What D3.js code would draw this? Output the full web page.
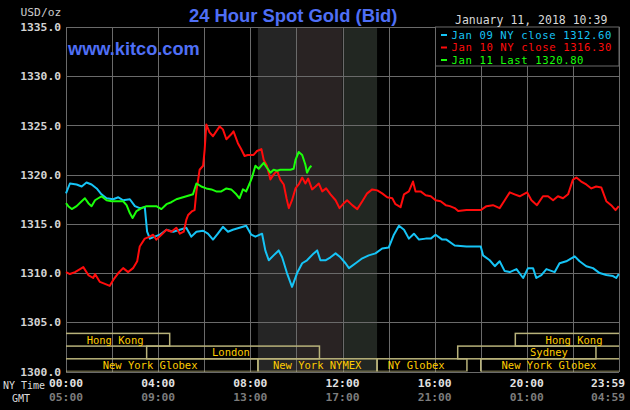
<!DOCTYPE html>
<html>
<head>
<meta charset="utf-8">
<script src="https://cdn.jsdelivr.net/npm/d3@7"></script>
<style>
  html, body { margin: 0; padding: 0; background: #000; }
  svg { display: block; }
  text { font-family: "DejaVu Sans Mono", "Liberation Mono", monospace; }
  text.brand { font-family: "Liberation Sans", Arial, sans-serif; font-weight: bold; }
</style>
</head>
<body>
<svg width="630" height="410"></svg>
<script>
// Jan 09, hour of NY day -> price
const jan09 = [
  [0, 1318.1], [0.17, 1319.1], [0.46, 1319.0], [0.68, 1318.8], [0.89, 1319.2], [1.11, 1319.0],
  [1.33, 1318.6], [1.54, 1318.0], [1.76, 1317.6], [2.05, 1317.5], [2.27, 1317.7], [2.48, 1317.4],
  [2.77, 1317.5], [2.99, 1316.8], [3.20, 1316.6], [3.42, 1316.7], [3.52, 1314.2], [3.64, 1313.5],
  [3.85, 1313.7], [4.07, 1313.9], [4.36, 1314.4], [4.65, 1314.2], [4.94, 1314.4], [5.22, 1314.6],
  [5.44, 1313.7], [5.66, 1314.2], [5.95, 1314.3], [6.16, 1314.0], [6.38, 1313.4], [6.59, 1314.0],
  [6.81, 1314.7], [7.03, 1314.2], [7.24, 1314.4], [7.53, 1314.6], [7.82, 1314.8], [8.04, 1313.9],
  [8.22, 1313.7], [8.51, 1314.0], [8.65, 1312.3], [8.80, 1311.3], [9.01, 1311.8], [9.23, 1312.3],
  [9.38, 1311.6], [9.59, 1310.0], [9.81, 1308.6], [10.03, 1310.0], [10.25, 1311.0], [10.46, 1311.3],
  [10.75, 1312.0], [10.90, 1312.3], [11.04, 1311.3], [11.26, 1311.3], [11.48, 1311.6], [11.70, 1312.0],
  [11.91, 1311.6], [12.13, 1311.0], [12.28, 1310.5], [12.57, 1311.0], [12.86, 1311.5], [13.14, 1311.8],
  [13.43, 1312.0], [13.72, 1312.5], [14.01, 1312.6], [14.23, 1313.9], [14.45, 1314.8], [14.67, 1314.4],
  [14.88, 1313.5], [15.10, 1314.0], [15.32, 1313.4], [15.61, 1313.5], [15.83, 1313.5], [16.04, 1313.9],
  [16.33, 1313.4], [16.51, 1313.4], [16.87, 1312.8], [17.38, 1312.7], [18.00, 1312.7], [18.10, 1311.8],
  [18.39, 1311.3], [18.61, 1310.7], [18.82, 1311.2], [19.04, 1310.2], [19.26, 1310.1], [19.55, 1310.4],
  [19.84, 1309.5], [20.05, 1310.5], [20.27, 1310.5], [20.41, 1309.5], [20.63, 1309.8], [20.85, 1310.4],
  [21.21, 1310.1], [21.42, 1311.0], [21.71, 1311.2], [22.08, 1311.7], [22.29, 1311.2], [22.58, 1310.7],
  [22.87, 1310.5], [23.16, 1310.0], [23.45, 1309.8], [23.74, 1309.7], [23.88, 1309.5], [23.99, 1309.9]
];

const jan10 = [
  [0, 1310.1], [0.17, 1309.9], [0.39, 1310.1], [0.61, 1310.4], [0.75, 1310.6], [0.97, 1309.8],
  [1.18, 1309.5], [1.26, 1309.9], [1.47, 1309.1], [1.69, 1308.9], [1.90, 1308.7], [2.05, 1309.3],
  [2.27, 1310.0], [2.48, 1310.5], [2.70, 1310.1], [2.91, 1310.5], [3.09, 1311.2], [3.20, 1312.7],
  [3.42, 1313.5], [3.64, 1313.7], [3.78, 1313.9], [3.92, 1313.4], [4.14, 1313.9], [4.36, 1314.4],
  [4.57, 1314.2], [4.79, 1314.6], [4.94, 1314.0], [5.11, 1314.2], [5.22, 1315.4], [5.30, 1315.9],
  [5.48, 1316.3], [5.58, 1316.4], [5.66, 1318.3], [5.80, 1320.5], [5.95, 1320.9], [6.02, 1322.6],
  [6.09, 1325.1], [6.23, 1324.3], [6.38, 1323.9], [6.52, 1324.4], [6.67, 1324.9], [6.81, 1324.6],
  [6.96, 1323.6], [7.17, 1324.1], [7.27, 1324.4], [7.46, 1323.2], [7.60, 1322.6], [7.75, 1321.9],
  [7.89, 1322.0], [8.14, 1322.0], [8.29, 1322.4], [8.48, 1322.6], [8.58, 1321.5], [8.72, 1320.9],
  [8.87, 1319.5], [9.01, 1320.0], [9.16, 1320.4], [9.30, 1319.5], [9.45, 1319.0], [9.57, 1317.6],
  [9.67, 1316.6], [9.81, 1317.4], [9.96, 1318.6], [10.10, 1319.0], [10.25, 1319.7], [10.39, 1319.1],
  [10.51, 1319.6], [10.68, 1318.5], [10.83, 1318.8], [10.97, 1319.1], [11.12, 1318.3], [11.29, 1318.6],
  [11.48, 1318.0], [11.70, 1317.4], [11.87, 1316.6], [12.06, 1317.1], [12.20, 1317.4], [12.42, 1316.9],
  [12.64, 1316.5], [12.86, 1317.3], [13.07, 1318.1], [13.29, 1318.5], [13.51, 1318.4], [13.72, 1318.1],
  [13.94, 1317.7], [14.16, 1317.6], [14.30, 1317.0], [14.52, 1316.7], [14.67, 1318.0], [14.88, 1318.3],
  [15.06, 1319.3], [15.17, 1318.3], [15.39, 1318.3], [15.61, 1317.9], [15.83, 1317.8], [16.04, 1317.4],
  [16.26, 1317.3], [16.48, 1316.9], [16.66, 1316.8], [16.87, 1316.6], [17.02, 1316.3], [17.38, 1316.4],
  [18.00, 1316.4], [18.25, 1316.8], [18.53, 1316.9], [18.82, 1316.6], [19.04, 1317.4], [19.26, 1318.2],
  [19.47, 1318.0], [19.69, 1317.8], [20.01, 1318.2], [20.20, 1317.4], [20.44, 1316.9], [20.70, 1317.8],
  [20.92, 1317.8], [21.14, 1317.4], [21.35, 1317.8], [21.57, 1317.6], [21.79, 1318.0], [22.00, 1319.5],
  [22.15, 1319.7], [22.36, 1319.3], [22.58, 1319.0], [22.80, 1318.6], [23.01, 1318.8], [23.23, 1318.7],
  [23.45, 1317.3], [23.66, 1316.9], [23.85, 1316.4], [23.99, 1316.8]
];

const jan11 = [
  [0, 1317.1], [0.10, 1316.8], [0.25, 1316.5], [0.46, 1316.8], [0.68, 1317.3], [0.82, 1317.6],
  [0.97, 1317.1], [1.11, 1316.8], [1.26, 1317.4], [1.40, 1317.6], [1.54, 1317.8], [1.76, 1317.4],
  [1.98, 1317.3], [2.27, 1317.3], [2.48, 1317.3], [2.63, 1316.9], [2.77, 1316.1], [2.89, 1315.6],
  [3.06, 1316.3], [3.28, 1316.6], [3.49, 1316.8], [3.71, 1316.8], [3.92, 1316.8], [4.14, 1316.5],
  [4.36, 1317.0], [4.57, 1317.2], [4.79, 1317.5], [5.08, 1317.7], [5.37, 1317.9], [5.51, 1318.0],
  [5.66, 1319.1], [5.87, 1318.8], [6.09, 1318.6], [6.31, 1318.5], [6.52, 1318.3], [6.74, 1318.3],
  [6.96, 1318.6], [7.17, 1318.5], [7.39, 1318.0], [7.53, 1317.6], [7.68, 1318.5], [7.82, 1318.3],
  [7.97, 1319.1], [8.07, 1319.7], [8.22, 1320.9], [8.36, 1320.6], [8.58, 1321.2], [8.72, 1320.7],
  [8.87, 1320.2], [9.01, 1320.5], [9.16, 1320.4], [9.30, 1320.5], [9.52, 1320.5], [9.74, 1320.5],
  [9.88, 1320.6], [9.96, 1321.5], [10.10, 1322.3], [10.25, 1322.0], [10.39, 1321.0], [10.46, 1320.2],
  [10.57, 1320.7], [10.65, 1320.9]
];

const series = [
  { name: 'Jan 09 NY close 1312.60', color: '#16c4f6', points: jan09 },
  { name: 'Jan 10 NY close 1316.30', color: '#ff0c0c', points: jan10 },
  { name: 'Jan 11 Last 1320.80', color: '#1aff0a', points: jan11 }
];

const priceTicks = [1300, 1305, 1310, 1315, 1320, 1325, 1330, 1335];
const hourTicks = [0, 4, 8, 12, 16, 20, 23.98];
const nyLabels = ['00:00', '04:00', '08:00', '12:00', '16:00', '20:00', '23:59'];
const gmtLabels = ['05:00', '09:00', '13:00', '17:00', '21:00', '01:00', '04:59'];

// NYMEX floor hours, split by tint
const shadeBands = [
  { from: 8.33, to: 10, color: '#252525' },
  { from: 10, to: 12, color: '#292323' },
  { from: 12, to: 13.5, color: '#222722' }
];

// trading sessions: row, start hour, end hour, label centre hour
const sessions = [
  { name: 'Hong Kong', row: 0, from: -2, to: 4.5, at: 2.13 },
  { name: 'London', row: 1, from: 3.5, to: 11, at: 7.16 },
  { name: 'New York Globex', row: 2, from: -2, to: 8.33, at: 3.65 },
  { name: 'New York NYMEX', row: 2, from: 8.33, to: 13.5, at: 10.9 },
  { name: 'NY Globex', row: 2, from: 13.5, to: 17.4, at: 15.2 },
  { name: 'Sydney', row: 1, from: 17, to: 23, at: 20.96 },
  { name: 'New York Globex', row: 2, from: 18, to: 26, at: 20.96 },
  { name: 'Hong Kong', row: 0, from: 19.5, to: 26, at: 22.05 }
];

const plotLeft = 66, plotRight = 619, plotTop = 27, plotBottom = 371.5;

const svg = d3.select('svg');

const x = d3.scaleLinear().domain([0, 24]).range([plotLeft, plotRight]);
const y = d3.scaleLinear().domain([1300, 1335]).range([plotBottom, plotTop]);

svg.append('rect')
    .attr('width', 630)
    .attr('height', 410)
    .attr('fill', '#000');

svg.append('defs').append('clipPath')
    .attr('id', 'plot')
    .append('rect')
    .attr('x', plotLeft)
    .attr('y', plotTop)
    .attr('width', plotRight - plotLeft)
    .attr('height', plotBottom - plotTop);

svg.selectAll('.shade')
    .data(shadeBands)
    .enter().append('rect')
    .attr('class', 'shade')
    .attr('x', d => x(d.from))
    .attr('y', plotTop)
    .attr('width', d => x(d.to) - x(d.from))
    .attr('height', plotBottom - plotTop)
    .attr('fill', d => d.color);

// grid
const gridX = svg.append('g')
    .attr('transform', `translate(0, ${plotBottom})`)
    .call(d3.axisBottom(x).tickValues(d3.range(0, 25, 2)).tickSize(-(plotBottom - plotTop)).tickFormat(''));
const gridY = svg.append('g')
    .attr('transform', `translate(${plotLeft}, 0)`)
    .call(d3.axisLeft(y).tickValues(priceTicks).tickSize(-(plotRight - plotLeft)).tickFormat(''));
[gridX, gridY].forEach(g => {
    g.select('.domain').remove();
    g.selectAll('line').attr('stroke', '#6a6a6a').attr('stroke-width', 1).attr('shape-rendering', 'crispEdges');
});

// session boxes
const rowH = 12.7;
const rowTop = r => plotBottom - (3 - r) * rowH;
const sess = svg.append('g').attr('clip-path', 'url(#plot)');

sess.selectAll('rect')
    .data(sessions)
    .enter().append('rect')
    .attr('x', d => x(d.from))
    .attr('y', d => rowTop(d.row))
    .attr('width', d => x(d.to) - x(d.from))
    .attr('height', rowH)
    .attr('fill', 'none')
    .attr('stroke', '#b8b27a')
    .attr('stroke-width', 1.5);

sess.selectAll('text')
    .data(sessions)
    .enter().append('text')
    .attr('x', d => x(d.at))
    .attr('y', d => rowTop(d.row) + rowH / 2)
    .attr('dy', '0.36em')
    .attr('text-anchor', 'middle')
    .attr('font-size', '10.5px')
    .attr('fill', '#ffcc00')
    .text(d => d.name);

// price lines
const line = d3.line()
    .x(d => x(d[0]))
    .y(d => y(d[1]));

svg.selectAll('.price')
    .data(series)
    .enter().append('path')
    .attr('class', 'price')
    .attr('fill', 'none')
    .attr('stroke', d => d.color)
    .attr('stroke-width', 2)
    .attr('stroke-linejoin', 'round')
    .attr('d', d => line(d.points));

// legend box
svg.append('rect')
    .attr('x', 435.5)
    .attr('y', plotTop)
    .attr('width', plotRight - 435.5)
    .attr('height', 39)
    .attr('fill', '#000')
    .attr('stroke', '#6a6a6a')
    .attr('stroke-width', 1);

const legend = svg.selectAll('.legend')
    .data(series)
    .enter().append('g')
    .attr('class', 'legend')
    .attr('transform', (d, i) => `translate(441, ${38.5 + i * 12.5})`);

legend.append('rect')
    .attr('x', 0)
    .attr('y', -4.5)
    .attr('width', 6)
    .attr('height', 2)
    .attr('fill', d => d.color);

legend.append('text')
    .attr('x', 10.5)
    .attr('font-size', '10.6px')
    .attr('letter-spacing', '0.6px')
    .attr('fill', d => d.color)
    .text(d => d.name);

// y axis labels
const yAxis = svg.append('g')
    .attr('transform', `translate(${plotLeft}, 0)`)
    .call(d3.axisLeft(y).tickValues(priceTicks).tickSize(0).tickPadding(5).tickFormat(d3.format('.1f')));
yAxis.select('.domain').remove();
yAxis.selectAll('text')
    .attr('font-family', null)
    .attr('font-size', '11.3px')
    .attr('font-weight', 'bold')
    .attr('fill', '#d4d4d4');

// x labels
const timeX = (h, i) => i === hourTicks.length - 1 ? x(24) - 11 : x(h);

svg.selectAll('.ny')
    .data(hourTicks)
    .enter().append('text')
    .attr('x', timeX)
    .attr('y', 387)
    .attr('text-anchor', 'middle')
    .attr('font-size', '11.3px')
    .attr('font-weight', 'bold')
    .attr('fill', '#e2e2e2')
    .text((d, i) => nyLabels[i]);

svg.selectAll('.gmt')
    .data(hourTicks)
    .enter().append('text')
    .attr('x', timeX)
    .attr('y', 401)
    .attr('text-anchor', 'middle')
    .attr('font-size', '11.3px')
    .attr('font-weight', 'bold')
    .attr('fill', '#7c7c7c')
    .text((d, i) => gmtLabels[i]);

svg.append('text')
    .attr('x', 3)
    .attr('y', 389)
    .attr('font-size', '10px')
    .attr('fill', '#dddddd')
    .text('NY Time');

svg.append('text')
    .attr('x', 12)
    .attr('y', 402)
    .attr('font-size', '10px')
    .attr('fill', '#dddddd')
    .text('GMT');

// header texts
svg.append('text')
    .attr('x', 20.5)
    .attr('y', 16)
    .attr('font-size', '11.3px')
    .attr('fill', '#cccccc')
    .text('USD/oz');

svg.append('text')
    .attr('class', 'brand')
    .attr('x', 189)
    .attr('y', 22)
    .attr('font-size', '18.4px')
    .attr('fill', '#4f6ff6')
    .text('24 Hour Spot Gold (Bid)');

svg.append('text')
    .attr('class', 'brand')
    .attr('x', 68)
    .attr('y', 55)
    .attr('font-size', '18.2px')
    .attr('fill', '#4f6ff6')
    .text('www.kitco.com');

svg.append('text')
    .attr('x', 455)
    .attr('y', 24)
    .attr('font-size', '11.5px')
    .attr('fill', '#d8d8d8')
    .text('January 11, 2018 10:39');
</script>
</body>
</html>
